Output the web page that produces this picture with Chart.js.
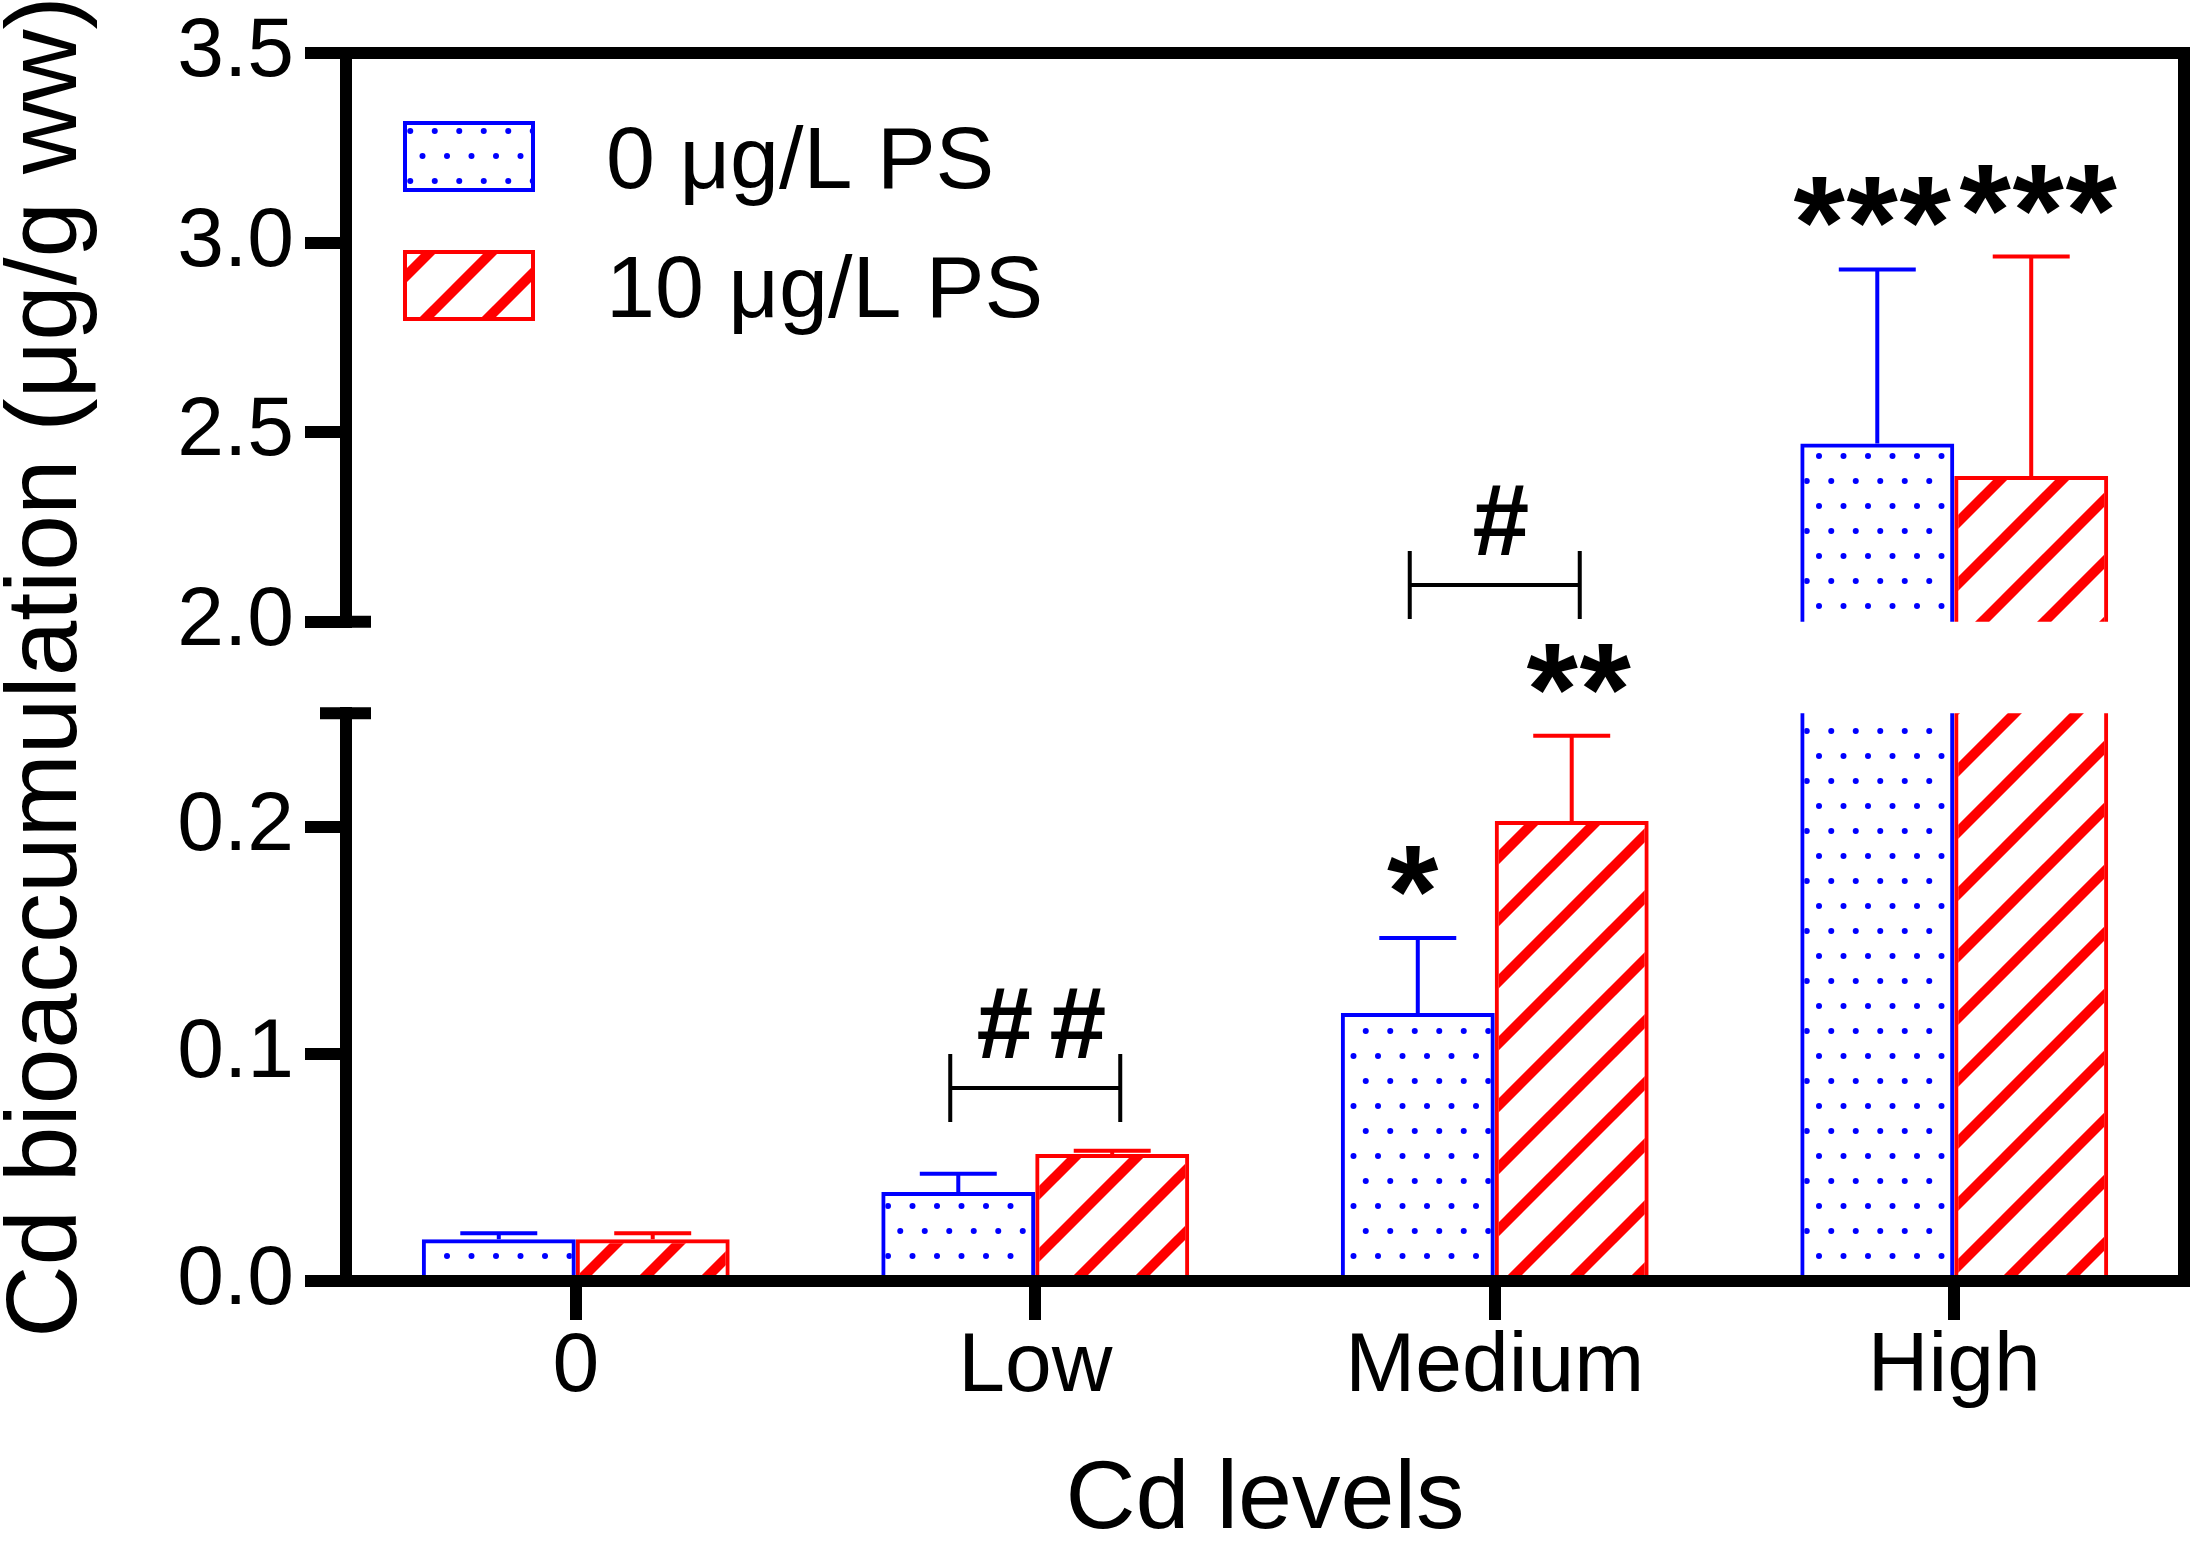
<!DOCTYPE html>
<html>
<head>
<meta charset="utf-8">
<script src="https://cdn.jsdelivr.net/npm/chart.js@4.4.1/dist/chart.umd.min.js"></script>
<style>
  html, body { margin: 0; padding: 0; background: #fff; }
  #wrap { width: 2196px; height: 1544px; }
</style>
</head>
<body>
<div id="wrap"><canvas id="chart"></canvas></div>
<script>
// data
const categories = ['0', 'Low', 'Medium', 'High'];
const seriesNames = ['0 μg/L PS', '10 μg/L PS'];
const meanNoPS = [0.0184, 0.0392, 0.118, 2.470];
const sdNoPS = [0.0026, 0.0080, 0.033, 0.459];
const meanPS = [0.0184, 0.0559, 0.2026, 2.384];
const sdPS = [0.0026, 0.0015, 0.0375, 0.579];

// broken y axis: two segments
const lowRange = [0, 0.25];
const highRange = [2.0, 3.5];
const lowTicks = [0, 0.1, 0.2];
const highTicks = [2.0, 2.5, 3.0, 3.5];

// significance marks: [series, category, text]
const starMarks = [[0, 2, '*'], [1, 2, '**'], [0, 3, '***'], [1, 3, '***']];
// brackets between the two bars of a group
const hashMarks = [
  { cat: 1, axis: 'yLow', y: 0.085, text: '##' },
  { cat: 2, axis: 'yHigh', y: 2.097, text: '#' }
];

const FONT = '"Liberation Sans", Arial, Helvetica, sans-serif';
const colors = ['#0000ff', '#ff0000'];

Chart.defaults.font.family = FONT;
Chart.defaults.color = '#000';

const ctx = document.getElementById('chart').getContext('2d');

function dotPattern(color) {
  const c = document.createElement('canvas');
  c.width = 49; c.height = 50;
  const g = c.getContext('2d');
  g.fillStyle = color;
  [[6, 6], [30.5, 6], [18.25, 31], [42.75, 31]].forEach(function(p) {
    g.beginPath();
    g.arc(p[0], p[1], 3, 0, Math.PI * 2);
    g.fill();
  });
  return ctx.createPattern(c, 'repeat');
}

function hatchPattern(color) {
  const s = 62;
  const c = document.createElement('canvas');
  c.width = s; c.height = s;
  const g = c.getContext('2d');
  g.strokeStyle = color;
  g.lineWidth = 10;
  for (let k = -1; k <= 1; k++) {
    g.beginPath();
    g.moveTo(k * s - s, 2 * s);
    g.lineTo(k * s + 2 * s, -s);
    g.stroke();
  }
  return ctx.createPattern(c, 'repeat');
}

const fills = [dotPattern(colors[0]), hatchPattern(colors[1])];
const means = [meanNoPS, meanPS];
const sds = [sdNoPS, sdPS];

function barSet(i, axis) {
  return {
    label: seriesNames[i],
    data: means[i],
    xAxisID: 'x',
    yAxisID: axis,
    stack: 's' + i,
    backgroundColor: fills[i],
    borderColor: colors[i],
    borderWidth: 4,
    borderSkipped: 'start',
    clip: 0,
    categoryPercentage: 0.67,
    barPercentage: 1
  };
}

function tickFmt(v) { return Number(v).toFixed(1); }

const segGrid = { drawOnChartArea: false, tickLength: 41, tickWidth: 12, lineWidth: 12, tickColor: '#000', color: '#000' };
const segTicks = { color: '#000', padding: 11, font: { size: 84, lineHeight: 1 }, callback: tickFmt };
const blank = { grid: { display: false, drawTicks: false }, ticks: { display: false } };

const annotate = {
  id: 'annotate',
  afterDatasetsDraw(chart) {
    const c = chart.ctx;
    const { yLow, yHigh } = chart.scales;
    c.save();
    means.forEach(function(m, i) {
      m.forEach(function(v, j) {
        const up = v > lowRange[1];
        const scale = up ? yHigh : yLow;
        const bar = chart.getDatasetMeta(up ? i + 2 : i).data[j];
        const y0 = scale.getPixelForValue(v);
        const y1 = scale.getPixelForValue(v + sds[i][j]);
        const half = bar.width / 4;
        c.strokeStyle = colors[i];
        c.lineWidth = 4;
        c.beginPath();
        c.moveTo(bar.x, y0); c.lineTo(bar.x, y1);
        c.moveTo(bar.x - half, y1); c.lineTo(bar.x + half, y1);
        c.stroke();
      });
    });
    c.restore();
  },
  afterDraw(chart) {
    const c = chart.ctx;
    const area = chart.chartArea;
    const { x, yLow, yHigh } = chart.scales;
    c.save();

    // axis break caps
    c.strokeStyle = '#000';
    c.lineWidth = 12;
    c.beginPath();
    c.moveTo(area.left, yHigh.getPixelForValue(highRange[0]));
    c.lineTo(area.left + 25, yHigh.getPixelForValue(highRange[0]));
    c.moveTo(area.left - 26, yLow.top);
    c.lineTo(area.left + 25, yLow.top);
    c.stroke();

    function symbols(text, cx, cy, pitch, font) {
      c.font = font;
      c.fillStyle = '#000';
      c.textAlign = 'center';
      c.textBaseline = 'alphabetic';
      const mt = c.measureText(text[0]);
      const base = cy + (mt.actualBoundingBoxAscent - mt.actualBoundingBoxDescent) / 2;
      for (let k = 0; k < text.length; k++) {
        c.fillText(text[k], cx + (k - (text.length - 1) / 2) * pitch, base);
      }
    }

    // stars over the error bars, nudged apart a little
    starMarks.forEach(function(s) {
      const i = s[0], j = s[1];
      const v = means[i][j];
      const up = v > lowRange[1];
      const scale = up ? yHigh : yLow;
      const bar = chart.getDatasetMeta(up ? i + 2 : i).data[j];
      const yErr = scale.getPixelForValue(v + sds[i][j]);
      const nudge = i === 0 ? -5 : 7;
      symbols(s[2], bar.x + nudge, yErr - 67, 53, 'bold 132px ' + FONT);
    });

    // brackets with # marks
    hashMarks.forEach(function(h) {
      const gc = x.getPixelForValue(h.cat);
      const yy = chart.scales[h.axis].getPixelForValue(h.y);
      c.strokeStyle = '#000';
      c.lineWidth = 4;
      c.beginPath();
      c.moveTo(gc - 85, yy); c.lineTo(gc + 85, yy);
      c.moveTo(gc - 85, yy - 34); c.lineTo(gc - 85, yy + 34);
      c.moveTo(gc + 85, yy - 34); c.lineTo(gc + 85, yy + 34);
      c.stroke();
      symbols(h.text, gc + 6, yy - 65, 73, 'bold 102px ' + FONT);
    });

    // legend
    seriesNames.forEach(function(name, i) {
      const bx = area.left + 57;
      const by = area.top + 68 + i * 129;
      c.fillStyle = fills[i];
      c.fillRect(bx, by, 132, 71);
      c.strokeStyle = colors[i];
      c.lineWidth = 4;
      c.strokeRect(bx + 2, by + 2, 128, 67);
      c.fillStyle = '#000';
      c.font = '88px ' + FONT;
      c.textAlign = 'left';
      c.textBaseline = 'alphabetic';
      c.fillText(name, area.left + 260, by + 67);
    });
    c.restore();
  }
};

new Chart(ctx, {
  type: 'bar',
  data: {
    labels: categories,
    datasets: [barSet(0, 'yLow'), barSet(1, 'yLow'), barSet(0, 'yHigh'), barSet(1, 'yHigh')]
  },
  options: {
    responsive: true,
    maintainAspectRatio: false,
    devicePixelRatio: 1,
    animation: false,
    layout: { padding: 0 },
    scales: {
      x: {
        type: 'category',
        position: 'bottom',
        offset: true,
        grid: { offset: false, drawOnChartArea: false, tickLength: 39, tickWidth: 12, lineWidth: 12, tickColor: '#000', color: '#000' },
        border: { color: '#000', width: 12, z: 1 },
        ticks: { color: '#000', padding: 6, maxRotation: 0, autoSkip: false, font: { size: 84, lineHeight: 1 } },
        title: { display: true, text: 'Cd levels', color: '#000', padding: 0, font: { size: 97, lineHeight: 0.88 } },
        afterFit: function(s) { s.height = 263; }
      },
      xTop: {
        type: 'category',
        position: 'top',
        grid: blank.grid,
        ticks: blank.ticks,
        border: { color: '#000', width: 12 },
        afterFit: function(s) { s.height = 48; }
      },
      yLow: {
        type: 'linear',
        position: 'left',
        stack: 'y',
        stackWeight: 570,
        stacked: false,
        min: lowRange[0],
        max: lowRange[1],
        afterBuildTicks: function(s) { s.ticks = lowTicks.map(function(v) { return { value: v }; }); },
        grid: segGrid,
        ticks: segTicks,
        border: { color: '#000', width: 12 },
        afterFit: function(s) { s.width = 236; }
      },
      yGap: {
        type: 'linear',
        position: 'left',
        stack: 'y',
        stackWeight: 92,
        grid: blank.grid,
        ticks: blank.ticks,
        border: { display: false },
        afterFit: function(s) { s.width = 236; }
      },
      yHigh: {
        type: 'linear',
        position: 'left',
        stack: 'y',
        stackWeight: 571,
        stacked: false,
        min: highRange[0],
        max: highRange[1],
        afterBuildTicks: function(s) { s.ticks = highTicks.map(function(v) { return { value: v }; }); },
        grid: segGrid,
        ticks: segTicks,
        border: { color: '#000', width: 12 },
        afterFit: function(s) { s.width = 236; }
      },
      yTitle: {
        type: 'linear',
        position: 'left',
        weight: 1,
        grid: blank.grid,
        ticks: blank.ticks,
        border: { display: false },
        title: { display: true, text: 'Cd bioaccumulation (μg/g ww)', color: '#000', padding: 0, font: { size: 100, lineHeight: 0.96 } },
        afterFit: function(s) { s.width = 110; }
      },
      yRight: {
        type: 'linear',
        position: 'right',
        grid: blank.grid,
        ticks: blank.ticks,
        border: { color: '#000', width: 12 },
        afterFit: function(s) { s.width = 12; }
      }
    },
    plugins: {
      legend: { display: false },
      tooltip: { enabled: false }
    }
  },
  plugins: [annotate]
});
</script>
</body>
</html>
